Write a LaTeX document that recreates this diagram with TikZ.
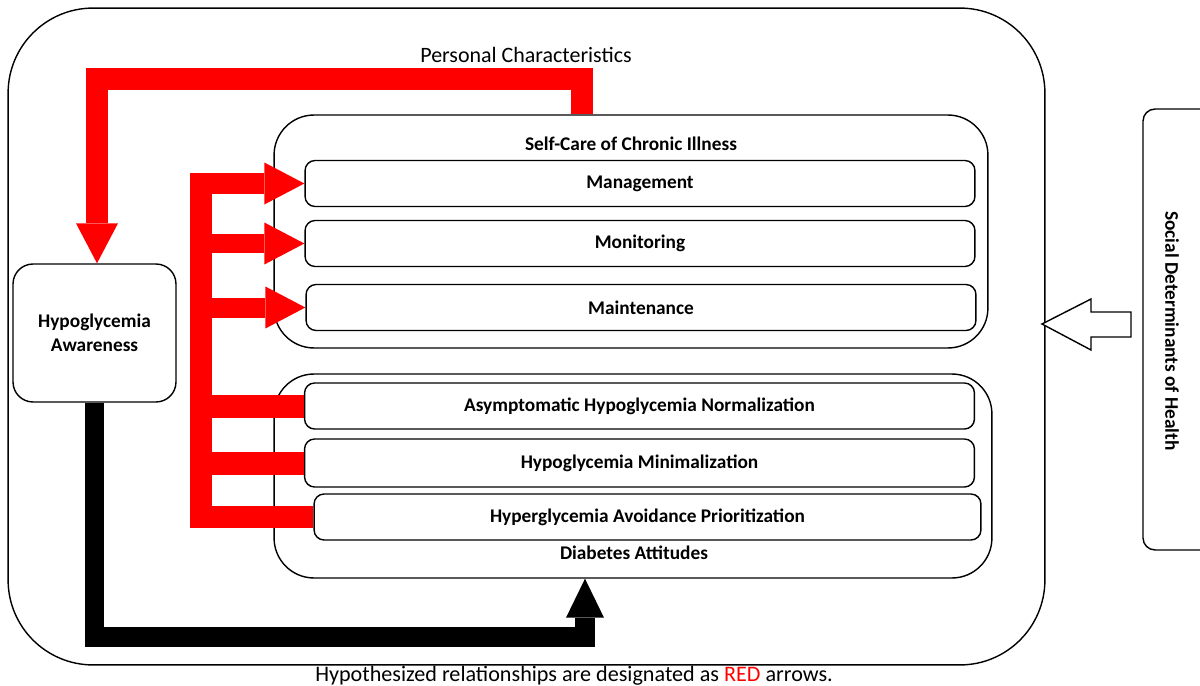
\documentclass[tikz,border=0pt]{standalone}
\usepackage{fontspec}
\setmainfont{Carlito}
\usetikzlibrary{arrows.meta,positioning}

\begin{document}
\begin{tikzpicture}[x=0.02cm, y=-0.02cm, font=\fontsize{11pt}{13.5pt}\selectfont\bfseries,
    group/.style={draw, rounded corners=0.8cm, line width=0.8pt, inner sep=0pt},
    item/.style={draw, rounded corners=0.2cm, minimum width=13.4cm, minimum
        height=0.92cm, line width=0.8pt, fill=white, inner sep=0pt},
    tag/.style={inner sep=0pt},
    redline/.style={draw=red, line width=0.46cm, line join=miter},
    redarrow/.style={redline, line width=0.4cm,
        -{Triangle[length=0.8cm, width=0.84cm, line width=0pt]}},
    blackarrow/.style={draw=black, line width=0.4cm, line join=miter,
        -{Triangle[length=0.78cm, width=0.76cm, line width=0pt]}} ]

    \useasboundingbox (0,0) rectangle (1200,686);

    % outer frame
    \node[group, rounded corners=1.7cm, minimum width=20.74cm, minimum
    height=13.14cm] (outer) at (526.5,336.5) {};
    \node[tag, font=\fontsize{12.5pt}{14pt}\selectfont] (pchar) at (526,55)
    {Personal Characteristics};

    % self-care
    \node[group, minimum width=14.28cm, minimum height=4.66cm] (selfcare) at
    (631,231.5) {}; \node[tag] (sclabel) at (631,144) {Self-Care of Chronic
    Illness};
    \node[item] (mgmt) at (640,183.5) {Management};
    \node[item] (monit) at (640,243.5) {Monitoring};
    \node[item] (maint) at (641,307.5) {Maintenance};

    % diabetes attitudes
    \node[group, minimum width=14.36cm, minimum height=4.08cm] (attitude) at
    (633,476) {};
    \node[item] (asym) at (639.5,406) {Asymptomatic Hypoglycemia Normalization};
    \node[item, minimum height=0.96cm] (hypomin) at (639.5,463) {Hypoglycemia
    Minimalization};
    \node[item, minimum width=13.34cm] (hyper) at (647.5,517) {Hyperglycemia
    Avoidance Prioritization};
    \node[tag] (dalabel) at (634,553) {Diabetes Attitudes};

    % awareness and social determinants
    \node[group, rounded corners=0.4cm, minimum width=3.26cm, minimum
    height=2.76cm, align=center] (aware) at (94.5,333) {Hypoglycemia\\Awareness};
    \node[group, rounded corners=0.24cm, minimum width=1.74cm, minimum
    height=8.82cm] (social) at (1186.5,329.5) {};
    \node[tag, rotate=-90] (sdh) at (1172,331) {Social Determinants of Health};

    \node[tag, font=\fontsize{12.6pt}{14pt}\selectfont] (caption) at (574,676)
    {Hypothesized relationships are designated as \textcolor{red}{RED} arrows.};

    % hollow arrow
    \draw[line width=0.8pt, fill=white] (1131,312) -- (1091,312) -- (1091,299)
    -- (1042,324) -- (1091,350) -- (1091,337) -- (1131,337) -- cycle;

    \coordinate (spine) at (201,0);
    \coordinate (pcdrop) at (582,79);
    \coordinate (blk) at (585,637);

    \draw[redarrow, line width=0.44cm] (selfcare.north -| pcdrop) -- (pcdrop)
    -| ([xshift=0.05cm]aware.north);
    \draw[redarrow, line width=0.44cm] (hyper.west) -| (spine |- mgmt.west)
    -- (mgmt.west);
    \draw[redarrow] (spine |- monit.west) -- (monit.west);
    \draw[redarrow] (spine |- maint.west) -- (maint.west);
    \draw[redline] (spine |- asym.west) -- (asym.west);
    \draw[redline] (spine |- hypomin.west) -- (hypomin.west);

    \draw[blackarrow] (aware.south) |- (blk) -- (attitude.south -| blk);

\end{tikzpicture}
\end{document}
